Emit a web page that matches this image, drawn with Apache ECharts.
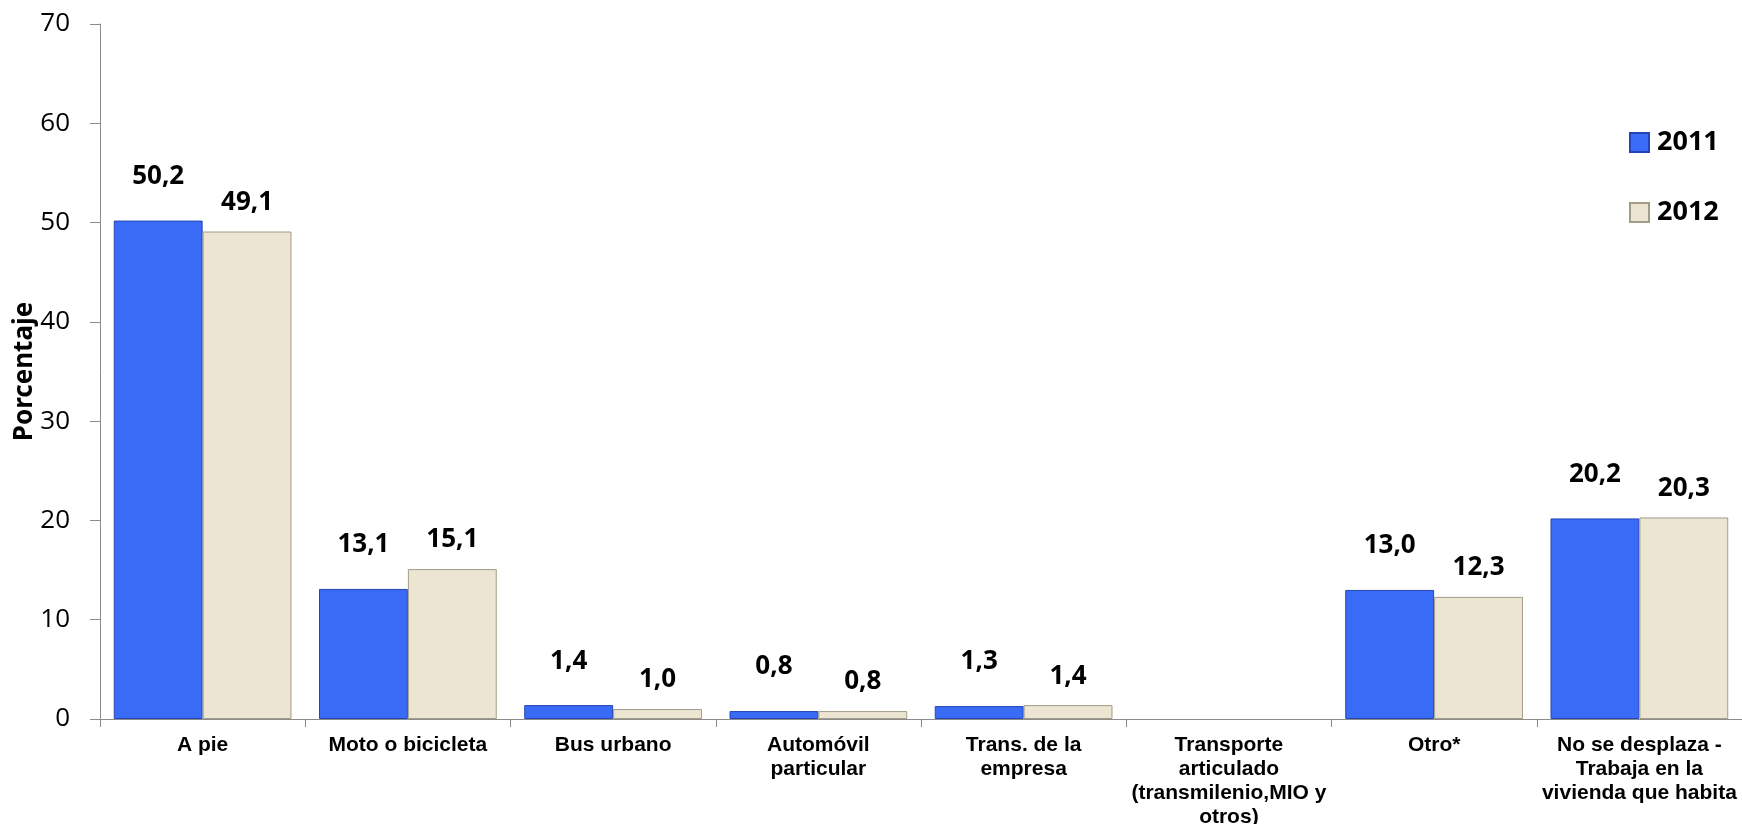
<!DOCTYPE html>
<html>
<head>
<meta charset="utf-8">
<script src="https://cdn.jsdelivr.net/npm/echarts@6/dist/echarts.min.js"></script>
<style>html,body{margin:0;padding:0;background:#fff}#c{width:1742px;height:824px}</style>
</head>
<body>
<div id="c"></div>
<script>
const categories = ["A pie", "Moto o bicicleta", "Bus urbano", "Automóvil\nparticular", "Trans. de la\nempresa", "Transporte\narticulado\n(transmilenio,MIO y\notros)", "Otro*", "No se desplaza -\nTrabaja en la\nvivienda que habita"];
const values2011 = [50.2, 13.1, 1.4, 0.8, 1.3, null, 13.0, 20.2];
const values2012 = [49.1, 15.1, 1.0, 0.8, 1.4, null, 12.3, 20.3];
const seriesNames = ["2011", "2012"];
const yTicks = { min: 0, max: 70, interval: 10 };

const chart = echarts.init(document.getElementById('c'), null, {renderer: 'canvas'});
const fmt = p => p.value == null ? '' : p.value.toFixed(1).replace('.', ',');
const labelFont = {fontFamily: 'Noto Sans', fontWeight: 'bold', fontSize: 26, lineHeight: 26, color: '#000'};
chart.setOption({
  animation: false,
  backgroundColor: '#fff',
  grid: {left: 100, right: 0, top: 24, bottom: 105, containLabel: false, outerBoundsMode: 'none'},
  legend: {
    orient: 'vertical', left: 1624, top: 124, itemGap: 43, itemWidth: 19, itemHeight: 19,
    icon: 'rect',
    textStyle: {fontFamily: 'Noto Sans', fontWeight: 'bold', fontSize: 27, lineHeight: 27, color: '#000', padding: [0, 0, 0, 3]},
    data: seriesNames
  },
  xAxis: {
    type: 'category', data: categories,
    axisLine: {lineStyle: {color: '#8c8c8c', width: 1}},
    axisTick: {show: true, length: 8, lineStyle: {color: '#8c8c8c'}},
    axisLabel: {interval: 0, margin: 14, fontFamily: 'Liberation Sans', fontWeight: 'bold', fontSize: 21, lineHeight: 24, color: '#000'}
  },
  yAxis: {
    type: 'value', min: yTicks.min, max: yTicks.max, interval: yTicks.interval,
    name: 'Porcentaje', nameLocation: 'middle', nameGap: 62, nameRotate: 90, nameMoveOverlap: false,
    nameTextStyle: {fontFamily: 'Noto Sans', fontWeight: 'bold', fontSize: 26, color: '#000'},
    axisLine: {show: true, lineStyle: {color: '#8c8c8c'}},
    axisTick: {show: true, inside: false, length: 10, lineStyle: {color: '#8c8c8c'}},
    splitLine: {show: false},
    axisLabel: {margin: 30, fontFamily: 'Open Sans', fontSize: 26, color: '#000'}
  },
  series: [
    {
      name: seriesNames[0], type: 'bar', data: values2011, barGap: '0%', barCategoryGap: '13.4%',
      itemStyle: {color: '#3a6bf6', borderColor: '#2346b5', borderWidth: 1},
      label: Object.assign({show: true, position: 'top', distance: 31, formatter: fmt}, labelFont)
    },
    {
      name: seriesNames[1], type: 'bar', data: values2012,
      itemStyle: {color: '#ebe5d2', borderColor: '#a29c88', borderWidth: 1},
      label: Object.assign({show: true, position: 'top', distance: 16, formatter: fmt}, labelFont)
    }
  ]
});
</script>
</body>
</html>
